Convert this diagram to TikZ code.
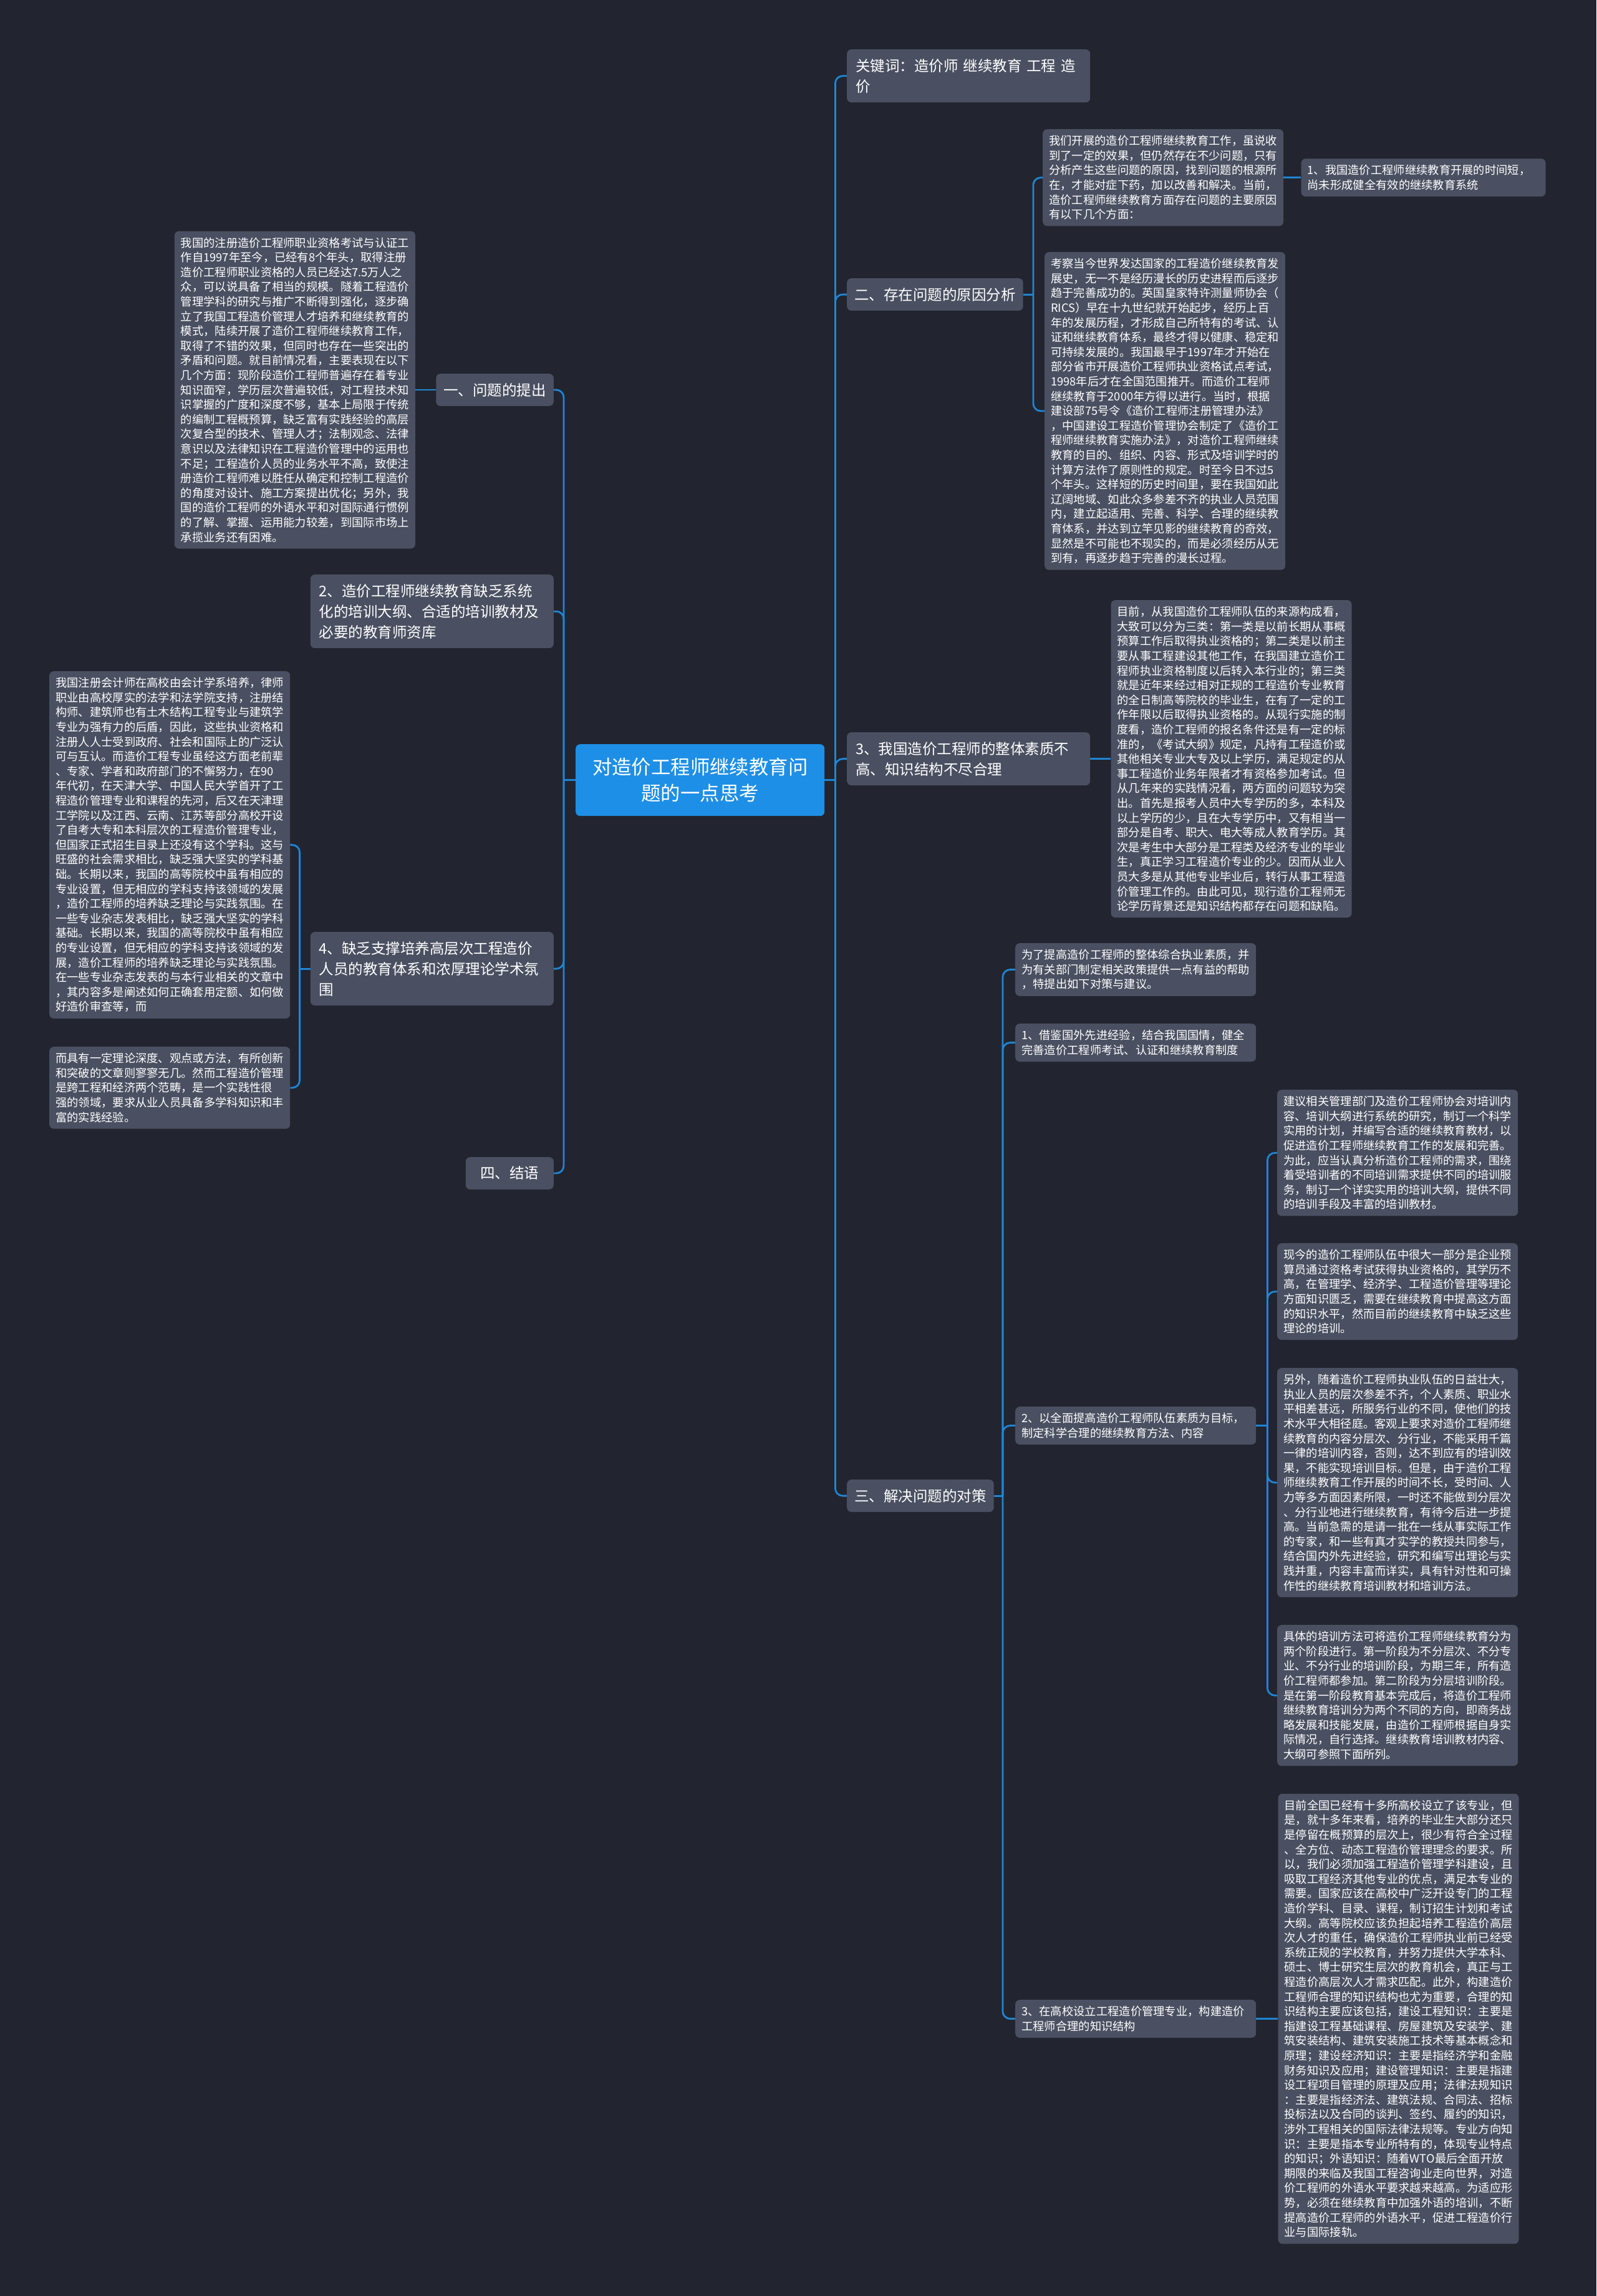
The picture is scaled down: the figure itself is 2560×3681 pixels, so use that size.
\documentclass[tikz,border=0pt]{standalone}
\usepackage{fontspec}
\setmainfont{Noto Sans CJK SC}
\definecolor{bg}{HTML}{22252F}
\definecolor{nodeg}{HTML}{4A5061}
\definecolor{cblue}{HTML}{1E8FE6}
\definecolor{lblue}{HTML}{1F86D6}
\begin{document}
\begin{tikzpicture}[x=1pt,y=-1pt,
  para/.style={fill=nodeg, rounded corners=7pt, text=white, font=\fontsize{18.3pt}{23.6pt}\selectfont, align=left, text width=366pt, inner xsep=10pt, inner ysep=10pt, anchor=north west},
  lvl/.style={fill=nodeg, rounded corners=7pt, text=white, font=\fontsize{23.5pt}{33pt}\selectfont, align=left, inner xsep=12pt, inner ysep=15pt},
  lvlw/.style={lvl, text width=362pt, inner xsep=14pt},
  conn/.style={draw=lblue, line width=2.8pt},
  curvecon/.style={conn, rounded corners=12pt},
]
\useasboundingbox[fill=bg] (0,0) rectangle (2560,3681);

% root
\node[fill=cblue, rounded corners=7pt, text=white, font=\fontsize{31.4pt}{42pt}\selectfont, align=center, minimum width=399pt, minimum height=115pt, inner sep=0pt, anchor=north west] (root) at (923,1193) {对造价工程师继续教育问\\题的一点思考};

% ---------- right side ----------
\node[lvlw, anchor=north west] (kw) at (1358,79) {关键词：造价师 继续教育 工程 造\\价};
\node[lvl, anchor=north west] (er) at (1358,446) {二、存在问题的原因分析};

\node[para] (pA) at (1672,207) {我们开展的造价工程师继续教育工作，虽说收\\到了一定的效果，但仍然存在不少问题，只有\\分析产生这些问题的原因，找到问题的根源所\\在，才能对症下药，加以改善和解决。当前，\\造价工程师继续教育方面存在问题的主要原因\\有以下几个方面：};
\node[para, anchor=west, text width=372pt] (pA1) at ([xshift=28pt]pA.east) {1、我国造价工程师继续教育开展的时间短，\\尚未形成健全有效的继续教育系统};

\node[para] (pB) at (1675,404) {考察当今世界发达国家的工程造价继续教育发\\展史，无一不是经历漫长的历史进程而后逐步\\趋于完善成功的。英国皇家特许测量师协会（\\RICS）早在十九世纪就开始起步，经历上百\\年的发展历程，才形成自己所特有的考试、认\\证和继续教育体系，最终才得以健康、稳定和\\可持续发展的。我国最早于1997年才开始在\\部分省市开展造价工程师执业资格试点考试，\\1998年后才在全国范围推开。而造价工程师\\继续教育于2000年方得以进行。当时，根据\\建设部75号令《造价工程师注册管理办法》\\，中国建设工程造价管理协会制定了《造价工\\程师继续教育实施办法》，对造价工程师继续\\教育的目的、组织、内容、形式及培训学时的\\计算方法作了原则性的规定。时至今日不过5\\个年头。这样短的历史时间里，要在我国如此\\辽阔地域、如此众多参差不齐的执业人员范围\\内，建立起适用、完善、科学、合理的继续教\\育体系，并达到立竿见影的继续教育的奇效，\\显然是不可能也不现实的，而是必须经历从无\\到有，再逐步趋于完善的漫长过程。};

\node[lvlw, anchor=north west] (three) at (1358,1174) {3、我国造价工程师的整体素质不\\高、知识结构不尽合理};
\node[para, anchor=west] (pC) at ([xshift=33pt]three.east) {目前，从我国造价工程师队伍的来源构成看，\\大致可以分为三类：第一类是以前长期从事概\\预算工作后取得执业资格的；第二类是以前主\\要从事工程建设其他工作，在我国建立造价工\\程师执业资格制度以后转入本行业的；第三类\\就是近年来经过相对正规的工程造价专业教育\\的全日制高等院校的毕业生，在有了一定的工\\作年限以后取得执业资格的。从现行实施的制\\度看，造价工程师的报名条件还是有一定的标\\准的，《考试大纲》规定，凡持有工程造价或\\其他相关专业大专及以上学历，满足规定的从\\事工程造价业务年限者才有资格参加考试。但\\从几年来的实践情况看，两方面的问题较为突\\出。首先是报考人员中大专学历的多，本科及\\以上学历的少，且在大专学历中，又有相当一\\部分是自考、职大、电大等成人教育学历。其\\次是考生中大部分是工程类及经济专业的毕业\\生，真正学习工程造价专业的少。因而从业人\\员大多是从其他专业毕业后，转行从事工程造\\价管理工作的。由此可见，现行造价工程师无\\论学历背景还是知识结构都存在问题和缺陷。};

\node[lvl, anchor=north west] (san) at (1358,2372) {三、解决问题的对策};
\node[para] (wei) at (1628,1512) {为了提高造价工程师的整体综合执业素质，并\\为有关部门制定相关政策提供一点有益的帮助\\，特提出如下对策与建议。};
\node[para] (one) at (1628,1641) {1、借鉴国外先进经验，结合我国国情，健全\\完善造价工程师考试、认证和继续教育制度};
\node[para] (two) at (1628,2255) {2、以全面提高造价工程师队伍素质为目标，\\制定科学合理的继续教育方法、内容};
\node[para] (thr) at (1628,3206) {3、在高校设立工程造价管理专业，构建造价\\工程师合理的知识结构};

\node[para] (q1) at (2048,1747) {建议相关管理部门及造价工程师协会对培训内\\容、培训大纲进行系统的研究，制订一个科学\\实用的计划，并编写合适的继续教育教材，以\\促进造价工程师继续教育工作的发展和完善。\\为此，应当认真分析造价工程师的需求，围绕\\着受培训者的不同培训需求提供不同的培训服\\务，制订一个详实实用的培训大纲，提供不同\\的培训手段及丰富的培训教材。};
\node[para] (q2) at (2048,1993) {现今的造价工程师队伍中很大一部分是企业预\\算员通过资格考试获得执业资格的，其学历不\\高，在管理学、经济学、工程造价管理等理论\\方面知识匮乏，需要在继续教育中提高这方面\\的知识水平，然而目前的继续教育中缺乏这些\\理论的培训。};
\node[para] (q3) at (2048,2193) {另外，随着造价工程师执业队伍的日益壮大，\\执业人员的层次参差不齐，个人素质、职业水\\平相差甚远，所服务行业的不同，使他们的技\\术水平大相径庭。客观上要求对造价工程师继\\续教育的内容分层次、分行业，不能采用千篇\\一律的培训内容，否则，达不到应有的培训效\\果，不能实现培训目标。但是，由于造价工程\\师继续教育工作开展的时间不长，受时间、人\\力等多方面因素所限，一时还不能做到分层次\\、分行业地进行继续教育，有待今后进一步提\\高。当前急需的是请一批在一线从事实际工作\\的专家，和一些有真才实学的教授共同参与，\\结合国内外先进经验，研究和编写出理论与实\\践并重，内容丰富而详实，具有针对性和可操\\作性的继续教育培训教材和培训方法。};
\node[para] (q4) at (2048,2605) {具体的培训方法可将造价工程师继续教育分为\\两个阶段进行。第一阶段为不分层次、不分专\\业、不分行业的培训阶段，为期三年，所有造\\价工程师都参加。第二阶段为分层培训阶段。\\是在第一阶段教育基本完成后，将造价工程师\\继续教育培训分为两个不同的方向，即商务战\\略发展和技能发展，由造价工程师根据自身实\\际情况，自行选择。继续教育培训教材内容、\\大纲可参照下面所列。};
\node[para, anchor=west] (q5) at ([xshift=35pt]thr.east) {目前全国已经有十多所高校设立了该专业，但\\是，就十多年来看，培养的毕业生大部分还只\\是停留在概预算的层次上，很少有符合全过程\\、全方位、动态工程造价管理理念的要求。所\\以，我们必须加强工程造价管理学科建设，且\\吸取工程经济其他专业的优点，满足本专业的\\需要。国家应该在高校中广泛开设专门的工程\\造价学科、目录、课程，制订招生计划和考试\\大纲。高等院校应该负担起培养工程造价高层\\次人才的重任，确保造价工程师执业前已经受\\系统正规的学校教育，并努力提供大学本科、\\硕士、博士研究生层次的教育机会，真正与工\\程造价高层次人才需求匹配。此外，构建造价\\工程师合理的知识结构也尤为重要，合理的知\\识结构主要应该包括，建设工程知识：主要是\\指建设工程基础课程、房屋建筑及安装学、建\\筑安装结构、建筑安装施工技术等基本概念和\\原理；建设经济知识：主要是指经济学和金融\\财务知识及应用；建设管理知识：主要是指建\\设工程项目管理的原理及应用；法律法规知识\\：主要是指经济法、建筑法规、合同法、招标\\投标法以及合同的谈判、签约、履约的知识，\\涉外工程相关的国际法律法规等。专业方向知\\识：主要是指本专业所特有的，体现专业特点\\的知识；外语知识：随着WTO最后全面开放\\期限的来临及我国工程咨询业走向世界，对造\\价工程师的外语水平要求越来越高。为适应形\\势，必须在继续教育中加强外语的培训，不断\\提高造价工程师的外语水平，促进工程造价行\\业与国际接轨。};

% ---------- left side ----------
\node[lvl, anchor=north east] (yi) at (888,599) {一、问题的提出};
\node[para, anchor=east] (L1) at ([xshift=-33pt]yi.west) {我国的注册造价工程师职业资格考试与认证工\\作自1997年至今，已经有8个年头，取得注册\\造价工程师职业资格的人员已经达7.5万人之\\众，可以说具备了相当的规模。隧着工程造价\\管理学科的研究与推广不断得到强化，逐步确\\立了我国工程造价管理人才培养和继续教育的\\模式，陆续开展了造价工程师继续教育工作，\\取得了不错的效果，但同时也存在一些突出的\\矛盾和问题。就目前情况看，主要表现在以下\\几个方面：现阶段造价工程师普遍存在着专业\\知识面窄，学历层次普遍较低，对工程技术知\\识掌握的广度和深度不够，基本上局限于传统\\的编制工程概预算，缺乏富有实践经验的高层\\次复合型的技术、管理人才；法制观念、法律\\意识以及法律知识在工程造价管理中的运用也\\不足；工程造价人员的业务水平不高，致使注\\册造价工程师难以胜任从确定和控制工程造价\\的角度对设计、施工方案提出优化；另外，我\\国的造价工程师的外语水平和对国际通行惯例\\的了解、掌握、运用能力较差，到国际市场上\\承揽业务还有困难。};

\node[lvlw, anchor=north east] (er2) at (888,921) {2、造价工程师继续教育缺乏系统\\化的培训大纲、合适的培训教材及\\必要的教育师资库};
\node[lvlw, anchor=north east] (si4) at (888,1494) {4、缺乏支撑培养高层次工程造价\\人员的教育体系和浓厚理论学术氛\\围};

\node[para] (L2) at (79,1076) {我国注册会计师在高校由会计学系培养，律师\\职业由高校厚实的法学和法学院支持，注册结\\构师、建筑师也有土木结构工程专业与建筑学\\专业为强有力的后盾，因此，这些执业资格和\\注册人人士受到政府、社会和国际上的广泛认\\可与互认。而造价工程专业虽经这方面老前辈\\、专家、学者和政府部门的不懈努力，在90\\年代初，在天津大学、中国人民大学首开了工\\程造价管理专业和课程的先河，后又在天津理\\工学院以及江西、云南、江苏等部分高校开设\\了自考大专和本科层次的工程造价管理专业，\\但国家正式招生目录上还没有这个学科。这与\\旺盛的社会需求相比，缺乏强大坚实的学科基\\础。长期以来，我国的高等院校中虽有相应的\\专业设置，但无相应的学科支持该领域的发展\\，造价工程师的培养缺乏理论与实践氛围。在\\一些专业杂志发表相比，缺乏强大坚实的学科\\基础。长期以来，我国的高等院校中虽有相应\\的专业设置，但无相应的学科支持该领域的发\\展，造价工程师的培养缺乏理论与实践氛围。\\在一些专业杂志发表的与本行业相关的文章中\\，其内容多是阐述如何正确套用定额、如何做\\好造价审查等，而};
\node[para] (L3) at (79,1678) {而具有一定理论深度、观点或方法，有所创新\\和突破的文章则寥寥无几。然而工程造价管理\\是跨工程和经济两个范畴，是一个实践性很\\强的领域，要求从业人员具备多学科知识和丰\\富的实践经验。};

\node[lvl, anchor=north east, minimum width=141pt] (si) at (888,1855) {四、结语};

% ---------- connectors ----------
\coordinate (rootR) at ([xshift=17pt]root.east);
\coordinate (rootL) at ([xshift=-19pt]root.west);
\draw[conn] (root.east) -- (rootR);
\draw[conn] (root.west) -- (rootL);
\foreach \c in {kw,er,three,san} \draw[curvecon] (rootR) |- (\c.west);
\foreach \c in {yi,er2,si4,si} \draw[curvecon] (rootL) |- (\c.east);

\coordinate (erS) at ([xshift=16pt]er.east);
\draw[conn] (er.east) -- (erS);
\foreach \c in {pA,pB} \draw[curvecon] (erS) |- (\c.west);
\draw[conn] (pA.east) -- (pA1.west);
\draw[conn] (three.east) -- (pC.west);

\coordinate (sanS) at ([xshift=14pt]san.east);
\draw[conn] (san.east) -- (sanS);
\foreach \c in {wei,one,two,thr} \draw[curvecon] (sanS) |- (\c.west);

\coordinate (twoS) at ([xshift=18pt]two.east);
\draw[conn] (two.east) -- (twoS);
\foreach \c in {q1,q2,q3,q4} \draw[curvecon] (twoS) |- (\c.west);
\draw[conn] (thr.east) -- (q5.west);

\draw[conn] (yi.west) -- (L1.east);
\coordinate (si4S) at ([xshift=-17pt]si4.west);
\draw[conn] (si4.west) -- (si4S);
\foreach \c in {L2,L3} \draw[curvecon] (si4S) |- (\c.east);
\end{tikzpicture}
\end{document}
